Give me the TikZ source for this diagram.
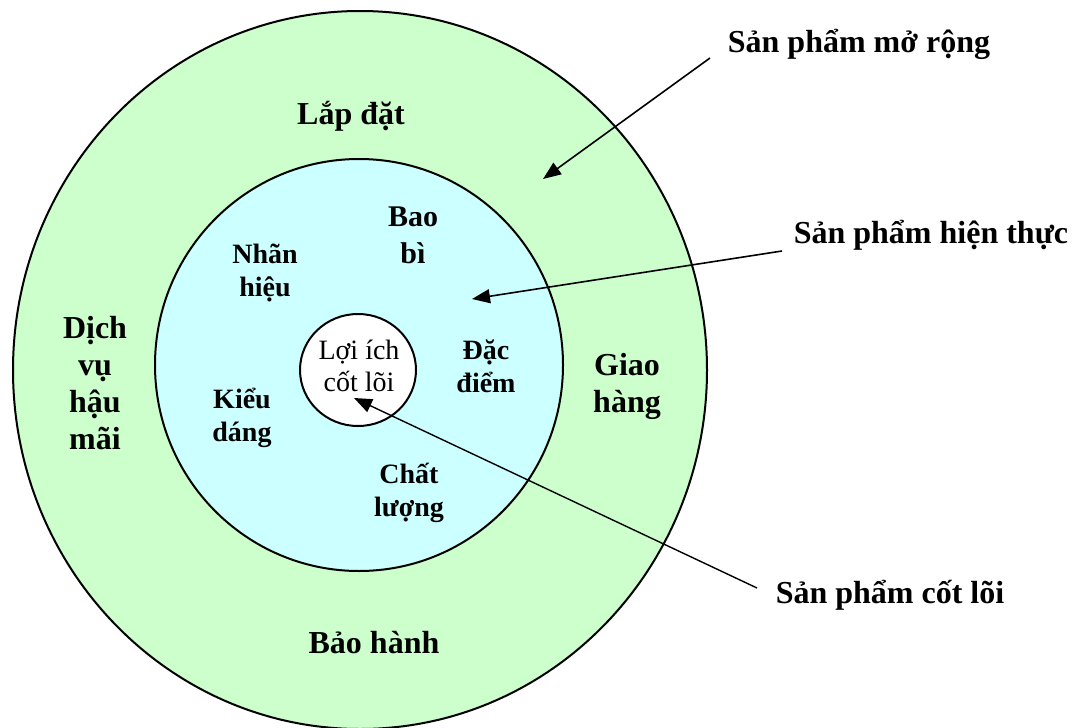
\documentclass[tikz,border=0pt]{standalone}
\usepackage{fontspec}
\setmainfont{Liberation Serif}
\usetikzlibrary{arrows.meta}
\definecolor{ringout}{HTML}{CCFFCC}
\definecolor{ringin}{HTML}{CCFFFF}
\tikzset{
  ring/.style={draw=black, line width=2pt},
  biglab/.style={anchor=base, inner sep=0pt, align=center, font=\fontsize{32}{37}\selectfont\bfseries},
  midlab/.style={anchor=base, inner sep=0pt, align=center, font=\fontsize{28}{33}\selectfont\bfseries},
  corelab/.style={anchor=base, inner sep=0pt, align=center, font=\fontsize{28}{32}\selectfont},
  pointer/.style={draw=black, line width=1.6pt, -{Triangle[length=18pt,width=14pt]}}
}
\begin{document}
\begin{tikzpicture}[x=1pt,y=-1pt]
\useasboundingbox (0,0) rectangle (1087,728);
\clip (0,0) rectangle (1087,728);
% rings
\draw[ring, fill=ringout] (360,370) ellipse [x radius=347, y radius=359];
\draw[ring, fill=ringin] (359,365) ellipse [x radius=204, y radius=206];
\draw[ring, fill=white] (358,370) ellipse [x radius=58, y radius=56];
% labels in rings (base anchor = baseline of last line)
\node[biglab] (lapdat) at (351,124) {Lắp đặt};
\node[biglab] (baohanh) at (374,653) {Bảo hành};
\node[biglab] (dichvu) at (95,449) {Dịch\\vụ\\hậu\\mãi};
\node[biglab] (giaohang) at (627,412) {Giao\\hàng};
\node[midlab, font=\fontsize{30}{37}\selectfont\bfseries] (baobi) at (413,263) {Bao\\bì};
\node[midlab] (nhanhieu) at (265,296) {Nhãn\\hiệu};
\node[midlab] (dacdiem) at (486,392) {Đặc\\điểm};
\node[midlab] (kieudang) at (242,441) {Kiểu\\dáng};
\node[midlab] (chatluong) at (409,516) {Chất\\lượng};
\node[corelab] (loiich) at (359,391) {Lợi ích\\cốt lõi};
% outside labels
\node[biglab] (mo) at (859,52) {Sản phẩm mở rộng};
\node[biglab] (ht) at (931,243) {Sản phẩm hiện thực};
\node[biglab] (cl) at (890,603) {Sản phẩm cốt lõi};
% pointers
\coordinate (a1s) at (710,58);
\coordinate (a1t) at (543,179);
\coordinate (a2s) at (782,251);
\coordinate (a2t) at (472,299);
\coordinate (a3s) at (757,588);
\coordinate (a3t) at (354,398);
\draw[pointer] (a1s) -- (a1t);
\draw[pointer] (a2s) -- (a2t);
\draw[pointer, line width=1.4pt] (a3s) -- (a3t);
\end{tikzpicture}
\end{document}
